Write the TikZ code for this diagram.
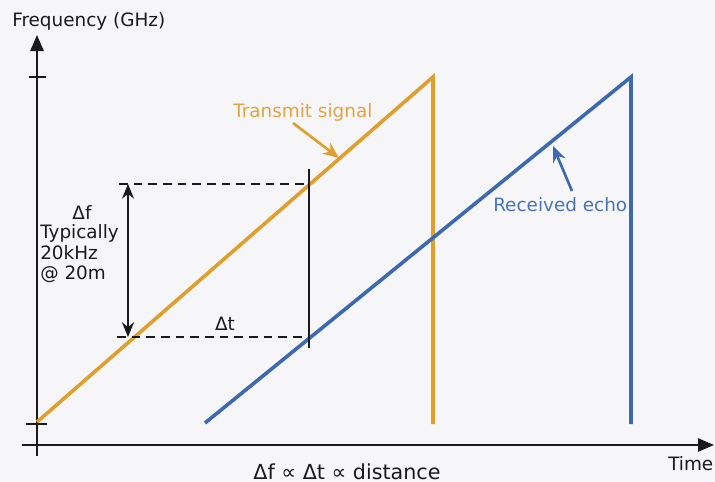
\documentclass[tikz,border=0pt]{standalone}
\usepackage{fontspec}
\setmainfont{DejaVu Sans}
\usetikzlibrary{arrows.meta}
\definecolor{tx}{HTML}{E09E2C}
\definecolor{rx}{HTML}{3D69B1}
\definecolor{txt}{HTML}{E3A43E}
\definecolor{rxt}{HTML}{4A74BA}
\definecolor{bg}{HTML}{F6F6F8}
\definecolor{ink}{HTML}{1A1A1A}
\begin{document}
\begin{tikzpicture}[x=0.75pt,y=-0.75pt,
  font=\fontsize{13.8}{16}\selectfont,
  axis/.style={draw=ink,line width=1.1pt},
  tick/.style={draw=ink,line width=0.9pt},
  sig/.style={line width=2.7pt,line join=miter},
  guide/.style={draw=ink,line width=0.8pt,dash pattern=on 6.5pt off 4.5pt},
  marker/.style={draw=ink,line width=1.1pt},
  lbl/.style={inner sep=0pt,anchor=base west,text=ink},
  callout/.style={line width=2pt,-{Stealth[length=12pt,width=10pt]}}]
\fill[bg] (0,0) rectangle (715,482);
\useasboundingbox (0,0) rectangle (715,482);
% axes
\coordinate (yb) at (37,456); \coordinate (yt) at (37,35);
\coordinate (xl) at (22,445); \coordinate (xr) at (714,445);
\draw[axis,-{Triangle[length=12pt,width=10pt]}] (yb) -- (yt);
\draw[axis,-{Triangle[length=12pt,width=10pt]}] (xl) -- (xr);
\coordinate (t1a) at (29,77); \coordinate (t1b) at (46,77);
\coordinate (t2a) at (26,424); \coordinate (t2b) at (47,424);
\draw[tick] (t1a) -- (t1b);
\draw[tick] (t2a) -- (t2b);
% signals
\coordinate (o0) at (37,422); \coordinate (o1) at (433,77); \coordinate (o2) at (433,424);
\coordinate (b0) at (205,423); \coordinate (b1) at (631,77); \coordinate (b2) at (631,424);
\draw[sig,tx] (o0) -- (o1) -- (o2);
\draw[sig,rx] (b0) -- (b1) -- (b2);
% guides
\coordinate (du0) at (119,184); \coordinate (du1) at (309,184);
\coordinate (dl0) at (117,337); \coordinate (dl1) at (309,337);
\draw[guide] (du0) -- (du1);
\draw[guide] (dl0) -- (dl1);
\coordinate (v0) at (309,169); \coordinate (v1) at (309,348);
\draw[marker] (v0) -- (v1);
\coordinate (fa) at (128,184); \coordinate (fb) at (128,337);
\draw[marker,{Stealth[length=11pt,width=9pt]}-{Stealth[length=11pt,width=9pt]}] (fa) -- (fb);
% labels
\node[lbl] (freq) at (12,26) {Frequency (GHz)};
\node[lbl] (time) at (668,470) {Time};
\node[lbl,anchor=base,font=\fontsize{15.5}{18}\selectfont] (form) at (347,479) {Δf ∝ Δt ∝ distance};
\node[lbl,anchor=base] (dt) at (225,330) {Δt};
\node[lbl,anchor=base] (df1) at (82,219) {Δf};
\node[lbl] (df2) at (40,238) {Typically};
\node[lbl] (df3) at (40,259) {20kHz};
\node[lbl] (df4) at (40,279) {@ 20m};
\node[lbl,text=txt] (txl) at (233,117) {Transmit signal};
\node[lbl,text=rxt] (rxl) at (493,211) {Received echo};
\coordinate (ta) at (293,123); \coordinate (tb) at (339,158);
\draw[callout,tx] (ta) -- (tb);
\coordinate (ra) at (572,191); \coordinate (rb) at (553,146);
\draw[callout,rx] (ra) -- (rb);
\end{tikzpicture}
\end{document}
